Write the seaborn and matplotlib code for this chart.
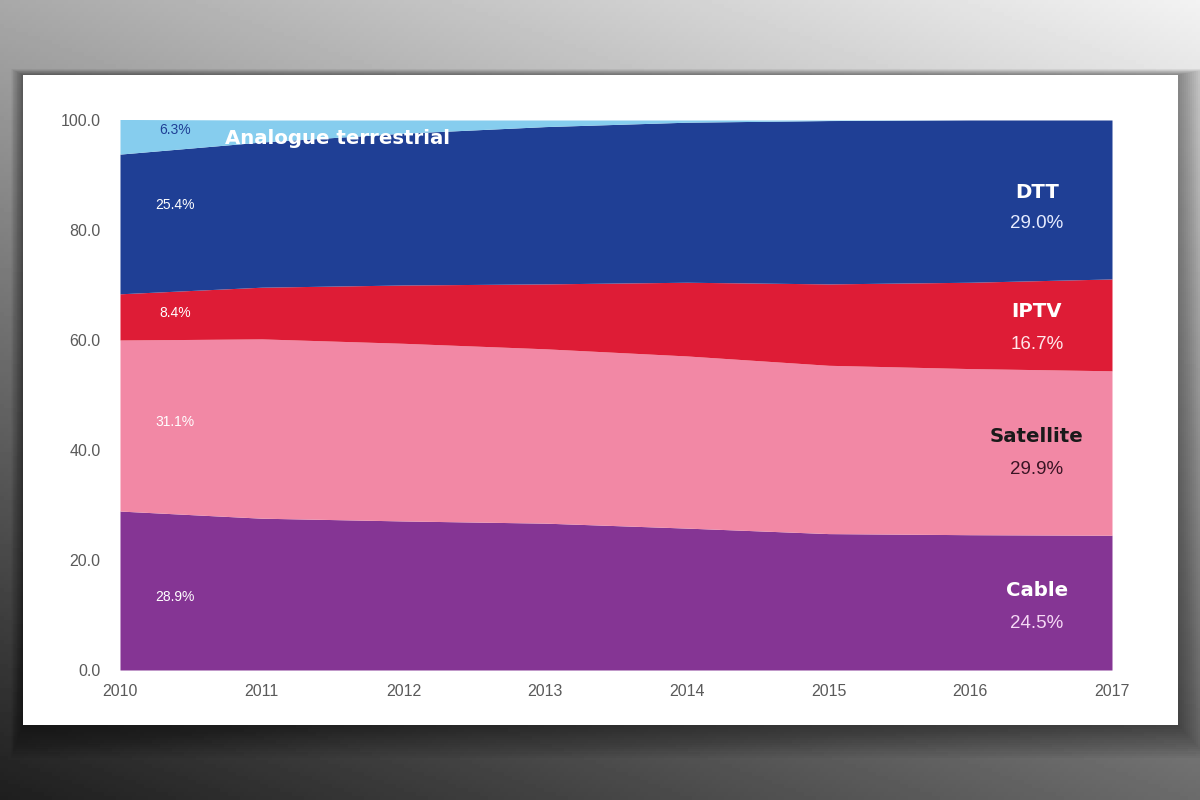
import numpy as np
import pandas as pd
import matplotlib.pyplot as plt
import seaborn as sns
from matplotlib.patches import Rectangle

years = [2010, 2011, 2012, 2013, 2014, 2015, 2016, 2017]
cable = [28.9, 27.6, 27.1, 26.7, 25.8, 24.8, 24.6, 24.5]
satellite = [31.1, 32.6, 32.3, 31.7, 31.3, 30.6, 30.2, 29.9]
iptv = [8.4, 9.4, 10.6, 11.8, 13.4, 14.8, 15.7, 16.7]
dtt = [25.4, 26.4, 27.6, 28.6, 29.1, 29.7, 29.5, 28.9]
analogue = [6.3, 4.0, 2.4, 1.2, 0.4, 0.1, 0.0, 0.0]

series = ["Cable", "Satellite", "IPTV", "DTT", "Analogue terrestrial"]
colors = ["#853594", "#f288a5", "#de1c36", "#1f3f95", "#86cdee"]

df = pd.DataFrame({"year": years, "Cable": cable, "Satellite": satellite,
                   "IPTV": iptv, "DTT": dtt, "Analogue terrestrial": analogue})

sns.set_theme(style="white")
plt.rcParams["font.family"] = ["Liberation Sans", "DejaVu Sans"]

fig = plt.figure(figsize=(12, 8), dpi=100)

# photo-like backdrop: grey gradient with a white card and soft shadow
bg = fig.add_axes([0, 0, 1, 1])
yy, xx = np.mgrid[0:1:200j, 0:1:300j]
grad = (0.66 * (1 - xx) * (1 - yy) + 0.95 * xx * (1 - yy)
        + 0.12 * (1 - xx) * yy + 0.42 * xx * yy)
bg.imshow(grad, extent=[0, 1200, 800, 0], aspect="auto", cmap="gray",
          vmin=0, vmax=1, zorder=0)
for i in range(16):
    bg.add_patch(Rectangle((23 - i * 0.8, 75 - i * 0.4), 1155 + i * 2.8, 650 + i * 2.6,
                           color="black", alpha=0.03, lw=0, zorder=1))
bg.add_patch(Rectangle((23, 75), 1155, 650, color="white", lw=0, zorder=2))
bg.set_xlim(0, 1200)
bg.set_ylim(800, 0)
bg.axis("off")

ax = fig.add_axes([120 / 1200, 130 / 800, 992 / 1200, 550 / 800])
ax.stackplot(df["year"], [df[s] for s in series], colors=colors, lw=0)
ax.set_xlim(2010, 2017)
ax.set_ylim(0, 100)
ax.set_xticks(years)
ax.set_yticks([0, 20, 40, 60, 80, 100])
ax.set_yticklabels([f"{v:.1f}" for v in [0, 20, 40, 60, 80, 100]])
ax.tick_params(axis="both", colors="#5a5a5a", labelsize=11.5, length=0)
ax.tick_params(axis="x", pad=10)
ax.tick_params(axis="y", pad=14)
ax.set_facecolor("none")
for sp in ax.spines.values():
    sp.set_visible(False)

# left-hand 2010 shares
small = dict(color="white", fontsize=10, ha="center", va="center")
ax.text(2010.39, 98.2, "6.3%", **small | {"color": "#1f3f95"})
ax.text(2010.39, 84.5, "25.4%", **small)
ax.text(2010.39, 64.9, "8.4%", **small)
ax.text(2010.39, 45.0, "31.1%", **small)
ax.text(2010.39, 13.3, "28.9%", **small)
heavy = dict(family="DejaVu Sans", fontweight="bold", fontsize=14.2)
ax.text(2010.74, 96.7, "Analogue terrestrial", color="white",
        ha="left", va="center", **heavy)

# right-hand 2017 labels
lx = 2016.47
labels = [("DTT", 86.9, "29.0%", 81.1, "white", "#e6ecff"),
          ("IPTV", 65.1, "16.7%", 59.1, "white", "#ffe6ea"),
          ("Satellite", 42.4, "29.9%", 36.5, "#1a1a1a", "#3a1424"),
          ("Cable", 14.4, "24.5%", 8.5, "white", "#f5d8f5")]
for name, ny, val, vy, c1, c2 in labels:
    ax.text(lx, ny, name, color=c1, ha="center", va="center", **heavy)
    ax.text(lx, vy, val, color=c2, fontsize=13.5, ha="center", va="center")

plt.savefig("out.png", dpi=100)
